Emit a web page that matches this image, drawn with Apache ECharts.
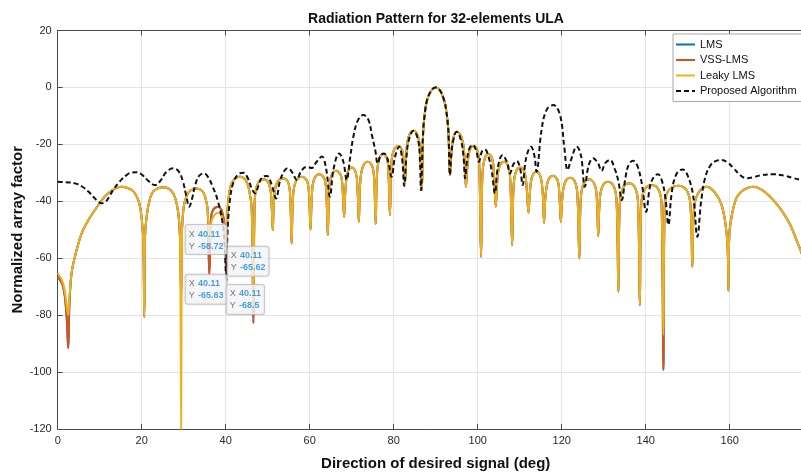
<!DOCTYPE html>
<html><head><meta charset="utf-8">
<script src="https://cdn.jsdelivr.net/npm/echarts@6/dist/echarts.min.js"></script>
<style>html,body{margin:0;padding:0;background:#fff}#c{width:801px;height:473px}</style>
</head><body><div id="c"></div>
<script>
// Direction angles (deg) shared by LMS / VSS-LMS / Leaky LMS
const angles = [
  0, 1.3, 2.1, 2.5,
  2.8, 3.3, 4.1, 5.7, 7.3, 9.7, 12.0, 15.2, 17.6, 18.5, 19.4, 20.0, 20.4, 20.6,
  20.8, 21.2, 21.9, 22.8, 25.1, 27.0, 28.0, 28.7, 29.1, 29.4,
  29.6, 30.0, 30.6, 31.5, 33.1, 34.5, 35.2, 35.7, 36.1,
  36.5, 37.0, 38.2, 39.2, 39.8, 40.11,
  40.4, 40.9, 41.7, 43.4, 44.9, 45.7, 46.2, 46.6,
  46.9, 47.5, 49.0, 50.4, 50.9, 51.2,
  51.5, 52.1, 53.7, 55.0, 55.4, 55.7,
  56.0, 56.6, 58.1, 59.5, 59.9, 60.2,
  60.5, 61.0, 62.3, 63.6, 64.0, 64.3,
  64.6, 65.1, 66.3, 67.5, 67.9, 68.2,
  68.5, 69.0, 70.0, 71.0, 71.4, 71.7,
  72.0, 72.6, 73.8, 75.0, 75.4, 75.7,
  76.0, 76.5, 77.5, 78.5, 78.8, 79.1,
  79.4, 79.9, 81.1, 82.1, 82.4, 82.7,
  83.0, 83.6, 84.7, 85.8, 86.3, 86.7,
  87.0, 87.5, 88.0, 89.0, 90.0, 91.0, 92.0, 92.5, 93.0, 93.4,
  93.7, 94.2, 95.0, 96.2, 96.8, 97.2,
  97.5, 98.0, 99.0, 100.0, 100.4, 100.8,
  101.1, 101.6, 102.5, 103.5, 103.9, 104.3,
  104.6, 105.1, 106.3, 107.4, 107.8, 108.2,
  108.5, 109.0, 110.1, 111.2, 111.7, 112.1,
  112.4, 112.9, 114.0, 115.0, 115.5, 115.8,
  116.1, 116.7, 117.9, 119.1, 119.5, 119.8,
  120.1, 120.7, 122.0, 123.3, 123.8, 124.2,
  124.5, 125.1, 126.5, 127.9, 128.4, 128.7,
  129.0, 129.6, 131.0, 132.5, 133.1, 133.5,
  133.8, 134.5, 136.0, 137.6, 138.2, 138.6,
  138.9, 139.6, 141.4, 143.2, 143.8, 144.2,
  144.5, 145.3, 147.8, 149.9, 150.7, 151.1,
  151.4, 152.2, 154.5, 156.5, 158.0, 159.0, 159.5, 159.7,
  159.9, 160.5, 161.3, 162.0, 163.5, 165.6, 167.5, 169.6, 171.5, 172.8, 174.5, 176.0, 177.0, 178.0
];

const leakyLms = [
  -65.2, -68.8, -76, -80,
  -73.5, -65.2, -59.5, -51.3, -46.6, -41.3, -37.2, -34.9, -36.0, -37.5, -40.5, -46, -55, -80.6,
  -52, -45, -39.5, -36.5, -35.1, -36.2, -39, -44, -52, -120,
  -50, -42, -38.5, -36.3, -35.5, -36.5, -39, -43, -55,
  -48, -45.5, -44, -46, -51, -58.72,
  -44, -36.5, -33, -31.4, -33, -37, -43, -78.1,
  -40.3, -34.3, -32.3, -34.3, -40.3, -50.1,
  -39.9, -33.9, -31.9, -33.9, -39.9, -54.8,
  -39.4, -33.4, -31.4, -33.4, -39.4, -49.9,
  -38.5, -32.5, -30.5, -32.5, -38.5, -51.9,
  -37.3, -31.3, -29.3, -31.3, -37.3, -45.4,
  -36.1, -30.1, -28.1, -30.1, -36.1, -47.2,
  -34.1, -28.1, -26.1, -28.1, -34.1, -48.0,
  -31.4, -25.4, -23.4, -25.4, -31.4, -44.8,
  -28.6, -22.6, -20.6, -22.6, -27, -33.7,
  -23.2, -17.2, -15.2, -17.2, -23.2, -36.1,
  -16, -8, -4.2, -1, 0, -1, -4.5, -8, -15, -30.8,
  -23.6, -17.6, -15.6, -17.6, -23.6, -34.9,
  -28.6, -22.6, -20.6, -22.6, -28.6, -59.5,
  -31.4, -25.4, -23.4, -25.4, -31.4, -41.9,
  -34.1, -28.1, -26.1, -28.1, -34.1, -55.4,
  -36.1, -30.1, -28.1, -30.1, -36.1, -44.0,
  -37.6, -31.6, -29.6, -31.6, -37.6, -47.5,
  -39, -33, -31.0, -33, -39, -47.2,
  -39.7, -33.7, -31.7, -33.7, -39.7, -60.1,
  -40.3, -34.3, -32.3, -34.3, -40.3, -52.2,
  -41.1, -35.1, -33.1, -35.1, -41.1, -71.8,
  -41.7, -35.7, -33.7, -35.7, -41.7, -76.5,
  -42.3, -36.3, -34.3, -36.3, -42.3, -87,
  -42.5, -36.5, -34.5, -36.5, -42.5, -63.0,
  -45, -38, -34.9, -37, -41, -48, -56, -71.4,
  -52, -45, -40, -37.8, -35.8, -34.9, -35.8, -38.4, -41.5, -44.2, -48.5, -54, -57.7, -62
];

const vssLms = [
  -66.5, -70, -80, -91.6,
  -76, -65.2, -59.5, -51.3, -46.6, -41.3, -37.2, -34.9, -36.0, -37.5, -40.5, -46, -55, -80.6,
  -52, -45, -39.5, -36.5, -35.1, -36.2, -39, -44, -52, -73.5,
  -50, -42, -38.5, -36.3, -35.5, -36.5, -39, -43, -65.6,
  -46, -43, -41.9, -44, -50, -65.62,
  -44, -36.5, -33, -31.4, -33, -37, -43, -82.8,
  -40.3, -34.3, -32.3, -34.3, -40.3, -50.1,
  -39.9, -33.9, -31.9, -33.9, -39.9, -54.8,
  -39.4, -33.4, -31.4, -33.4, -39.4, -49.9,
  -38.5, -32.5, -30.5, -32.5, -38.5, -51.9,
  -37.3, -31.3, -29.3, -31.3, -37.3, -45.4,
  -36.1, -30.1, -28.1, -30.1, -36.1, -47.2,
  -34.1, -28.1, -26.1, -28.1, -34.1, -48.0,
  -31.4, -25.4, -23.4, -25.4, -31.4, -44.8,
  -28.6, -22.6, -20.6, -22.6, -27, -33.7,
  -23.2, -17.2, -15.2, -17.2, -23.2, -36.1,
  -16, -8, -4.2, -1, 0, -1, -4.5, -8, -15, -30.8,
  -23.6, -17.6, -15.6, -17.6, -23.6, -34.9,
  -28.6, -22.6, -20.6, -22.6, -28.6, -59.5,
  -31.4, -25.4, -23.4, -25.4, -31.4, -41.9,
  -34.1, -28.1, -26.1, -28.1, -34.1, -55.4,
  -36.1, -30.1, -28.1, -30.1, -36.1, -44.0,
  -37.6, -31.6, -29.6, -31.6, -37.6, -47.5,
  -39, -33, -31.0, -33, -39, -47.2,
  -39.7, -33.7, -31.7, -33.7, -39.7, -60.1,
  -40.3, -34.3, -32.3, -34.3, -40.3, -52.2,
  -41.1, -35.1, -33.1, -35.1, -41.1, -71.8,
  -41.7, -35.7, -33.7, -35.7, -41.7, -76.5,
  -42.3, -36.3, -34.3, -36.3, -42.3, -99.3,
  -42.5, -36.5, -34.5, -36.5, -42.5, -63.0,
  -45, -38, -34.9, -37, -41, -48, -56, -71.4,
  -52, -45, -40, -37.8, -35.8, -34.9, -35.8, -38.4, -41.5, -44.2, -48.5, -54, -57.7, -62
];

const lms = [
  -66.5, -70, -80, -91.6,
  -76, -65.2, -59.5, -51.3, -46.6, -41.3, -37.2, -34.9, -36.0, -37.5, -40.5, -46, -55, -80.6,
  -52, -45, -39.5, -36.5, -35.1, -36.2, -39, -44, -52, -73.5,
  -50, -42, -38.5, -36.3, -35.5, -36.5, -39, -43, -65.6,
  -46, -43, -41.9, -44, -50, -65.63,
  -44, -36.5, -33, -31.4, -33, -37, -43, -82.8,
  -40.3, -34.3, -32.3, -34.3, -40.3, -50.1,
  -39.9, -33.9, -31.9, -33.9, -39.9, -54.8,
  -39.4, -33.4, -31.4, -33.4, -39.4, -49.9,
  -38.5, -32.5, -30.5, -32.5, -38.5, -51.9,
  -37.3, -31.3, -29.3, -31.3, -37.3, -45.4,
  -36.1, -30.1, -28.1, -30.1, -36.1, -47.2,
  -34.1, -28.1, -26.1, -28.1, -34.1, -48.0,
  -31.4, -25.4, -23.4, -25.4, -31.4, -44.8,
  -28.6, -22.6, -20.6, -22.6, -27, -33.7,
  -23.2, -17.2, -15.2, -17.2, -23.2, -36.1,
  -16, -8, -4.2, -1, 0, -1, -4.5, -8, -15, -30.8,
  -23.6, -17.6, -15.6, -17.6, -23.6, -34.9,
  -28.6, -22.6, -20.6, -22.6, -28.6, -59.5,
  -31.4, -25.4, -23.4, -25.4, -31.4, -41.9,
  -34.1, -28.1, -26.1, -28.1, -34.1, -55.4,
  -36.1, -30.1, -28.1, -30.1, -36.1, -44.0,
  -37.6, -31.6, -29.6, -31.6, -37.6, -47.5,
  -39, -33, -31.0, -33, -39, -47.2,
  -39.7, -33.7, -31.7, -33.7, -39.7, -60.1,
  -40.3, -34.3, -32.3, -34.3, -40.3, -52.2,
  -41.1, -35.1, -33.1, -35.1, -41.1, -71.8,
  -41.7, -35.7, -33.7, -35.7, -41.7, -76.5,
  -42.3, -36.3, -34.3, -36.3, -42.3, -99.3,
  -42.5, -36.5, -34.5, -36.5, -42.5, -63.0,
  -45, -38, -34.9, -37, -41, -48, -56, -71.4,
  -52, -45, -40, -37.8, -35.8, -34.9, -35.8, -38.4, -41.5, -44.2, -48.5, -54, -57.7, -62
];

// Proposed algorithm (dashed)
const proposedAngles = [
  0, 2.0, 4.1, 5.8, 7.3, 8.6, 9.7, 10.5, 11.3, 12.2, 13.2, 14.8, 16.4, 17.6, 18.8,
  20.0, 21.4, 23.2, 24.6, 25.8, 27.5, 28.8, 29.8, 30.6, 31.3, 32.0, 32.8, 33.7, 34.8, 35.8,
  36.8, 38.2, 39.3, 39.8, 40.11,
  40.4, 40.9, 41.7, 42.9, 44.2, 45.3, 46.2, 47.0, 47.8, 48.7, 49.8, 50.9, 52.0, 52.9, 54.0,
  54.8, 55.9, 56.9, 58.0, 59.3, 60.5, 61.6, 62.9, 63.9, 64.8, 65.7, 67.0, 68.0, 68.8, 69.6,
  70.4, 71.5, 72.8, 74.0, 74.8, 75.6, 76.2, 76.9, 77.7, 78.6, 79.5, 80.3, 81.3, 82.0, 82.5,
  83.0, 83.6, 84.7, 85.8, 86.2, 86.5,
  87.0, 87.5, 88.0, 89.0, 90.0, 91.0, 92.0, 92.5, 93.0, 93.4,
  93.7, 94.2, 95.0, 96.0, 96.6, 97.0, 97.5, 98.0, 98.8, 99.6,
  100.3, 101.0, 101.7, 102.6, 103.4, 104.1, 104.8, 105.9, 106.9, 107.7,
  108.5, 109.3, 110.1, 110.7, 111.5, 112.7, 113.5, 114.0, 115.2, 116.4,
  118.0, 119.6, 120.6, 121.4, 122.2, 123.6, 124.6, 125.5, 126.4, 127.5,
  128.6, 129.5, 130.4, 131.5, 132.6, 133.5, 134.3, 135.2, 136.0, 137.0,
  138.0, 139.1, 140.1, 141.0, 141.9, 142.9, 143.9, 144.7, 145.4, 146.2,
  147.3, 148.8, 150.0, 151.3, 152.3, 153.2, 154.2, 155.5, 156.8, 158.1,
  159.6, 161.0, 162.5, 164.0, 165.5, 167.3, 170.4, 173.0, 175.0, 177.0, 180.0
];
const proposed = [
  -33.1, -33.3, -33.7, -34.8, -36.6, -38.6, -40.2, -40.7, -40.3, -38.6, -36, -33, -30.8, -29.9, -29.8,
  -30.6, -32.6, -34.3, -32.5, -29.8, -28.4, -29.5, -33, -38, -41.9, -39, -34, -31, -30.2, -31.5,
  -34.5, -40.2, -48, -56, -68.5,
  -52, -41, -34, -30.6, -30.0, -32, -35.5, -37.2, -34.5, -31.5, -31.1, -34, -39.0, -33, -29.2,
  -28.4, -30, -32.5, -29.3, -27.9, -28.3, -26.2, -24.3, -28.5, -38.4, -28.5, -23.2, -26, -32.5, -25,
  -17.3, -11.5, -9.7, -11.5, -16.7, -22, -26.7, -23.8, -23.2, -25.5, -31.4, -24.5, -20.8, -25, -34.6,
  -25, -18.5, -15.2, -18.5, -24, -36.1,
  -16, -8, -4.2, -1, 0, -1, -4.5, -8, -15, -30.8,
  -24, -18.5, -15.6, -18.5, -24, -31.9, -25, -21.5, -20.2, -22,
  -26.1, -22.5, -21.8, -24.5, -30, -37.2, -28, -23.8, -26, -30.2,
  -27, -25.9, -28.5, -34.3, -25, -20.8, -24, -29.6, -15, -7.9,
  -6.2, -9.7, -20.8, -29.0, -25.5, -20.8, -24, -34.9, -27.5, -24.9,
  -26.5, -29.3, -26.5, -25.5, -28.5, -33, -39.6, -31.5, -27, -25.8,
  -27.5, -34, -43.7, -35, -31.5, -30.5, -33, -39, -48.3, -37,
  -30.5, -28.8, -31, -38, -52.5, -40, -31.5, -27.2, -25.8, -25.5,
  -26.5, -28.5, -30.8, -31.9, -31.6, -30.9, -30.5, -31, -31.8, -32.5, -33.5
];

// MATLAB data tips at x = 40.11
const tipX = [40.11, 40.11, 40.11, 40.11];
const tipY = [-58.72, -65.62, -65.63, -68.5];

const xTicks = {min: 0, max: 180, interval: 20};
const yTicks = {min: -120, max: 20, interval: 20};

const pair = (xs, ys) => xs.map((x, i) => [x, ys[i]]);
const tipOffsets = [[-40, -29], [2, -27], [-40, 1], [1, 3]];
const FONT = 'Liberation Sans, Arial, Helvetica, sans-serif';

const chart = echarts.init(document.getElementById('c'), null, {renderer: 'canvas'});
const lineBase = {type: 'line', symbol: 'none', smooth: 0.4, clip: true, animation: false};
const axisCol = '#4a4a4a';

chart.setOption({
  animation: false,
  backgroundColor: '#ffffff',
  title: {
    text: 'Radiation Pattern for 32-elements ULA',
    left: 431, top: 7, textAlign: 'center',
    textStyle: {fontFamily: FONT, fontSize: 14, fontWeight: 'bold', color: '#111'}
  },
  grid: {left: 57.7, top: 30.5, width: 756, height: 398.5, containLabel: false, outerBoundsMode: 'none'},
  legend: {
    orient: 'vertical', left: 673, top: 34,
    itemWidth: 19, itemHeight: 10, itemGap: 2.5,
    padding: [4, 40, 4, 2],
    backgroundColor: '#ffffff', borderColor: '#a8a8a8', borderWidth: 1,
    itemStyle: {opacity: 0},
    textStyle: {fontFamily: FONT, fontSize: 11, color: '#111', lineHeight: 13},
    data: ['LMS', 'VSS-LMS', 'Leaky LMS', 'Proposed Algorithm']
  },
  xAxis: [{
    type: 'value', min: xTicks.min, max: xTicks.max, interval: xTicks.interval,
    name: 'Direction of desired signal (deg)', nameLocation: 'middle', nameGap: 27,
    nameTextStyle: {fontFamily: FONT, fontSize: 15, fontWeight: 'bold', color: '#111'},
    axisLine: {show: true, onZero: false, lineStyle: {color: axisCol, width: 1}},
    axisTick: {show: true, inside: true, length: 5, lineStyle: {color: axisCol}},
    axisLabel: {fontFamily: FONT, fontSize: 11, color: '#2a2a2a', margin: 6},
    splitLine: {show: true, lineStyle: {color: '#e4e4e4', width: 1}}
  }, {
    type: 'value', position: 'top', min: xTicks.min, max: xTicks.max, interval: xTicks.interval,
    axisLine: {show: true, onZero: false, lineStyle: {color: axisCol, width: 1}},
    axisTick: {show: true, inside: true, length: 5, lineStyle: {color: axisCol}},
    axisLabel: {show: false}, splitLine: {show: false}
  }],
  yAxis: [{
    type: 'value', min: yTicks.min, max: yTicks.max, interval: yTicks.interval,
    name: 'Normalized array factor', nameLocation: 'middle', nameGap: 32, nameMoveOverlap: false,
    nameTextStyle: {fontFamily: FONT, fontSize: 15, fontWeight: 'bold', color: '#111'},
    axisLine: {show: true, onZero: false, lineStyle: {color: axisCol, width: 1}},
    axisTick: {show: true, inside: true, length: 5, lineStyle: {color: axisCol}},
    axisLabel: {fontFamily: FONT, fontSize: 11, color: '#2a2a2a', margin: 6},
    splitLine: {show: true, lineStyle: {color: '#e4e4e4', width: 1}}
  }],
  series: [
    Object.assign({}, lineBase, {name: 'LMS', data: pair(angles, lms),
      lineStyle: {color: '#0072BD', width: 2}, itemStyle: {color: '#0072BD'}}),
    Object.assign({}, lineBase, {name: 'VSS-LMS', data: pair(angles, vssLms),
      lineStyle: {color: '#D95319', width: 2}, itemStyle: {color: '#D95319'}}),
    Object.assign({}, lineBase, {name: 'Leaky LMS', data: pair(angles, leakyLms),
      lineStyle: {color: '#EDB120', width: 2}, itemStyle: {color: '#EDB120'}}),
    Object.assign({}, lineBase, {name: 'Proposed Algorithm', data: pair(proposedAngles, proposed),
      lineStyle: {color: '#111', width: 2, type: [5, 3]}, itemStyle: {color: '#111'}}),
    {
      type: 'scatter', name: 'tips', symbolSize: 1, animation: false, z: 10,
      itemStyle: {color: 'rgba(0,0,0,0)'},
      data: tipX.map((x, i) => ({
        value: [x, tipY[i]],
        label: {position: tipOffsets[i]}
      })),
      label: {
        show: true,
        formatter: p => '{k|X} {v|' + p.value[0] + '}\n{k|Y} {v|' + p.value[1] + '}',
        backgroundColor: 'rgba(250,250,252,0.97)', borderColor: '#c4c4c8', borderWidth: 1,
        borderRadius: 2, padding: [3, 3, 2, 3],
        shadowColor: 'rgba(0,0,0,0.12)', shadowBlur: 2,
        rich: {
          k: {fontFamily: FONT, fontSize: 9, color: '#555', lineHeight: 11},
          v: {fontFamily: FONT, fontSize: 9, color: '#1a8ad8', fontWeight: 'bold', lineHeight: 11}
        }
      }
    }
  ]
});
</script>
</body></html>
